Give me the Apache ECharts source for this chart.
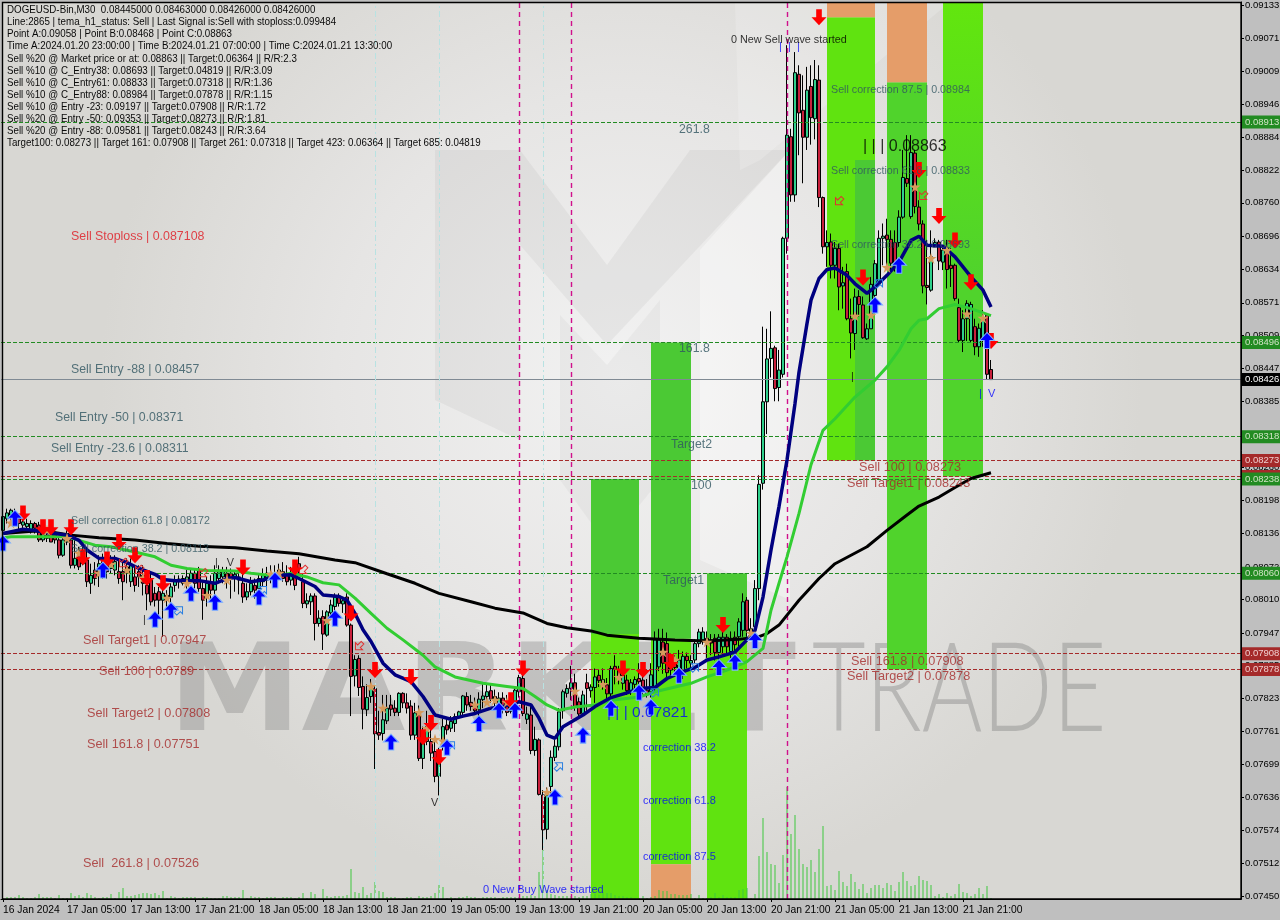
<!DOCTYPE html>
<html><head><meta charset="utf-8">
<style>html,body{margin:0;padding:0;background:#bfbfbf;overflow:hidden}#c{width:1280px;height:920px}</style>
<script src="https://cdn.jsdelivr.net/npm/echarts@6/dist/echarts.min.js"></script>
</head><body><div id="c"></div>
<script>
// All prices are in points: 1 point = 0.00001
const headerLines = [
"DOGEUSD-Bin,M30  0.08445000 0.08463000 0.08426000 0.08426000",
"Line:2865 | tema_h1_status: Sell | Last Signal is:Sell with stoploss:0.099484",
"Point A:0.09058 | Point B:0.08468 | Point C:0.08863",
"Time A:2024.01.20 23:00:00 | Time B:2024.01.21 07:00:00 | Time C:2024.01.21 13:30:00",
"Sell %20 @ Market price or at: 0.08863 || Target:0.06364 || R/R:2.3",
"Sell %10 @ C_Entry38: 0.08693 || Target:0.04819 || R/R:3.09",
"Sell %10 @ C_Entry61: 0.08833 || Target:0.07318 || R/R:1.36",
"Sell %10 @ C_Entry88: 0.08984 || Target:0.07878 || R/R:1.15",
"Sell %10 @ Entry -23: 0.09197 || Target:0.07908 || R/R:1.72",
"Sell %20 @ Entry -50: 0.09353 || Target:0.08273 || R/R:1.81",
"Sell %20 @ Entry -88: 0.09581 || Target:0.08243 || R/R:3.64",
"Target100: 0.08273 || Target 161: 0.07908 || Target 261: 0.07318 || Target 423: 0.06364 || Target 685: 0.04819"
];
const barCount = 310;
const tickLabels = ["16 Jan 2024","17 Jan 05:00","17 Jan 13:00","17 Jan 21:00","18 Jan 05:00","18 Jan 13:00","18 Jan 21:00","19 Jan 05:00","19 Jan 13:00","19 Jan 21:00","20 Jan 05:00","20 Jan 13:00","20 Jan 21:00","21 Jan 05:00","21 Jan 13:00","21 Jan 21:00"];
const priceTicks = [9133,9071,9009,8946,8884,8822,8760,8696,8634,8571,8509,8447,8385,8322,8260,8198,8136,8072,8010,7947,7885,7823,7761,7699,7636,7574,7512,7450];
// open, close, low, high
const ohlc = [
[8141,8167,8138,8173],[8163,8174,8154,8182],[8170,8179,8157,8182],[8172,8160,8154,8182],[8163,8154,8141,8173],
[8151,8157,8138,8173],[8148,8154,8138,8163],[8138,8154,8135,8160],[8154,8145,8135,8157],[8151,8123,8119,8157],
[8123,8145,8119,8151],[8132,8126,8119,8145],[8135,8119,8119,8145],[8132,8123,8116,8141],[8123,8094,8088,8129],
[8094,8123,8091,8126],[8119,8135,8113,8141],[8123,8075,8069,8148],[8075,8088,8069,8123],[8094,8072,8066,8110],
[8078,8088,8075,8116],[8085,8044,8034,8107],[8041,8056,8021,8078],[8066,8050,8037,8081],[8056,8078,8034,8094],
[8082,8066,8050,8097],[8075,8063,8050,8097],[8069,8082,8060,8094],[8066,8082,8056,8094],[8063,8050,8040,8085],
[8063,8044,8009,8082],[8072,8060,8041,8088],[8044,8075,8034,8088],[8053,8037,8025,8072],[8063,8053,8034,8075],
[8056,8041,8018,8075],[8037,8021,7990,8053],[8047,8006,7999,8060],[8022,8009,7997,8034],[8025,8009,7978,8034],
[8009,8022,7940,8034],[8009,8018,7994,8028],[8015,8034,8003,8041],[8037,8047,8025,8056],[8049,8044,8031,8056],
[8041,8050,8037,8056],[8044,8053,8031,8066],[8047,8060,8041,8069],[8060,8041,8031,8069],[8066,8031,8025,8072],
[8031,8009,7972,8044],[8015,8041,7997,8053],[8041,8028,8006,8056],[8028,8060,8009,8075],[8050,8063,8041,8075],
[8053,8063,8041,8072],[8060,8050,8031,8072],[8060,8050,8012,8069],[8050,8058,8025,8066],[8053,8047,8020,8066],
[8041,8015,8004,8060],[8015,8025,8009,8041],[8025,8041,8018,8053],[8037,8028,8012,8050],[8031,8050,8022,8060],
[8044,8056,8034,8069],[8047,8060,8034,8072],[8060,8050,8041,8075],[8060,8053,8044,8075],[8056,8066,8047,8078],
[8063,8050,8044,8081],[8056,8044,8037,8075],[8047,8056,8037,8072],[8056,8037,8028,8075],[8078,8069,8060,8091],
[8044,8003,7994,8060],[8002,8008,7994,8022],[8006,8017,7981,8022],[8017,7965,7933,8022],[7965,7975,7959,7990],
[7978,7945,7915,7990],[7943,7987,7940,7990],[7985,8000,7975,8010],[7997,8015,7985,8022],[8017,8003,7997,8022],
[8002,8008,7985,8015],[8015,7962,7959,8022],[7962,7865,7790,7965],[7866,7897,7846,7905],[7899,7844,7828,7905],
[7846,7803,7765,7865],[7802,7825,7790,7850],[7827,7842,7815,7860],[7842,7756,7690,7848],[7759,7754,7745,7800],
[7757,7783,7744,7830],[7781,7805,7775,7830],[7811,7803,7790,7830],[7805,7797,7790,7820],[7797,7833,7790,7835],
[7833,7815,7805,7835],[7815,7805,7795,7833],[7809,7754,7745,7820],[7754,7796,7745,7815],[7792,7710,7705,7810],
[7710,7742,7690,7770],[7742,7770,7735,7800],[7742,7720,7705,7770],[7723,7676,7665,7745],[7676,7707,7640,7730],
[7740,7770,7725,7785],[7773,7764,7755,7785],[7767,7780,7760,7790],[7776,7789,7760,7795],[7788,7798,7785,7800],
[7797,7828,7790,7830],[7827,7811,7800,7835],[7816,7808,7800,7830],[7810,7800,7795,7825],[7802,7822,7790,7835],
[7821,7828,7805,7850],[7827,7836,7815,7850],[7838,7822,7815,7850],[7827,7815,7805,7840],[7808,7824,7800,7835],
[7824,7805,7795,7835],[7811,7797,7790,7830],[7799,7808,7795,7825],[7808,7839,7800,7845],[7836,7863,7825,7868],
[7861,7795,7790,7868],[7784,7794,7775,7808],[7792,7725,7718,7810],[7725,7746,7715,7770],[7745,7642,7640,7748],
[7641,7575,7537,7650],[7576,7641,7557,7655],[7657,7712,7640,7725],[7712,7733,7705,7745],[7732,7798,7725,7805],
[7800,7836,7785,7840],[7833,7842,7825,7850],[7842,7853,7820,7885],[7853,7808,7800,7870],[7817,7794,7785,7825],
[7795,7830,7790,7838],[7853,7842,7800,7870],[7838,7845,7825,7850],[7844,7864,7815,7880],[7867,7857,7845,7877],
[7852,7859,7840,7880],[7849,7832,7815,7862],[7832,7880,7820,7885],[7884,7878,7850,7905],[7877,7861,7850,7885],
[7852,7867,7840,7885],[7858,7838,7830,7868],[7838,7853,7830,7860],[7850,7859,7840,7865],[7861,7855,7845,7890],
[7858,7839,7830,7880],[7839,7830,7825,7860],[7836,7868,7825,7890],[7845,7934,7835,7950],[7883,7934,7875,7955],
[7930,7890,7870,7955],[7927,7872,7860,7948],[7877,7892,7865,7905],[7896,7882,7865,7905],[7867,7896,7855,7915],
[7871,7903,7860,7912],[7903,7895,7880,7910],[7890,7895,7880,7905],[7896,7927,7890,7935],[7927,7949,7920,7955],
[7934,7949,7925,7958],[7937,7927,7900,7950],[7934,7928,7905,7945],[7937,7910,7895,7945],[7910,7939,7895,7945],
[7921,7939,7905,7962],[7939,7921,7905,7945],[7912,7937,7900,7950],[7939,7925,7905,7950],[7940,7968,7920,7975],
[7952,8006,7940,8022],[8009,7952,7940,8015],[7950,7955,7935,7975],[7959,8031,7950,8047],[8031,8228,8009,8245],
[8230,8384,8218,8526],[8384,8465,8323,8522],[8466,8485,8430,8555],[8486,8409,8385,8490],[8411,8444,8385,8482],
[8436,8693,8430,8696],[8693,8888,8664,9058],[8885,8775,8762,8900],[8775,9006,8762,9045],[9003,8930,8850,9020],
[8935,8884,8797,9001],[8884,8973,8860,9017],[8980,8921,8870,9020],[8919,8993,8880,9030],[8992,8770,8752,9020],
[8770,8677,8664,8772],[8677,8685,8639,8708],[8686,8642,8617,8702],[8642,8674,8617,8686],[8674,8601,8557,8683],
[8603,8609,8560,8639],[8630,8541,8538,8645],[8541,8514,8466,8579],[8513,8582,8482,8598],[8583,8568,8545,8595],
[8567,8505,8503,8583],[8503,8522,8501,8532],[8522,8606,8522,8620],[8585,8645,8576,8652],[8608,8693,8608,8708],
[8693,8697,8642,8721],[8699,8691,8639,8730],[8691,8646,8633,8708],[8685,8642,8630,8708],[8685,8733,8677,8746],
[8733,8808,8730,8860],[8806,8797,8790,8888],[8734,8855,8730,8888],[8854,8753,8740,8860],[8752,8720,8708,8765],
[8720,8603,8589,8727],[8604,8600,8568,8690],[8595,8658,8592,8708],[8680,8685,8677,8693],[8686,8650,8633,8690],
[8648,8671,8633,8680],[8674,8634,8598,8690],[8642,8636,8601,8674],[8642,8579,8575,8645],[8562,8500,8497,8579],
[8500,8541,8478,8557],[8541,8570,8499,8576],[8500,8568,8497,8573],[8526,8488,8472,8541],[8488,8523,8469,8532],
[8500,8541,8488,8557],[8548,8436,8426,8551],[8445,8426,8426,8463]
];
const tickVolume = [1,2,2,2,4,2,1,1,2,5,2,2,2,1,4,1,1,6,3,4,2,6,4,2,1,2,2,5,1,7,11,3,3,4,5,6,6,5,6,4,8,1,3,2,1,2,2,2,2,1,2,2,1,1,1,3,3,2,2,2,9,1,3,2,2,1,2,2,2,1,2,2,2,1,2,6,1,7,5,1,10,3,2,3,3,3,4,30,7,6,12,4,6,17,8,7,2,2,2,1,1,2,2,1,3,2,2,3,6,14,12,1,2,1,2,2,3,2,2,1,2,2,2,2,1,2,2,2,2,2,3,3,4,3,27,49,9,5,4,3,3,3,3,3,2,3,3,5,5,4,7,6,6,4,3,3,2,2,1,1,3,1,2,3,9,8,8,5,5,4,4,4,5,1,4,1,1,2,6,2,4,2,2,2,9,10,11,1,5,43,81,47,35,34,16,44,112,65,84,50,35,32,39,27,50,73,13,14,9,28,17,13,25,17,10,15,6,11,14,14,11,16,14,8,17,27,18,13,14,23,19,18,14,3,5,2,6,3,5,15,7,6,3,5,11,5,13,1];
const temaBlue = [[0,8135],[3,8140],[5,8143],[8,8141],[10,8138],[13,8135],[16,8132],[19,8122],[21,8104],[24,8088],[28,8088],[31,8080],[34,8069],[38,8058],[40,8048],[43,8046],[46,8046],[49,8046],[53,8041],[56,8050],[58,8052],[62,8044],[65,8047],[68,8056],[72,8057],[74,8050],[78,8035],[80,8019],[84,8016],[86,8009],[88,7984],[90,7953],[92,7931],[95,7890],[98,7868],[102,7855],[105,7827],[108,7792],[112,7784],[115,7790],[118,7795],[122,7805],[125,7808],[129,7817],[132,7811],[134,7786],[136,7754],[138,7748],[140,7770],[145,7792],[148,7808],[152,7825],[156,7834],[159,7842],[163,7844],[166,7861],[169,7871],[173,7882],[176,7896],[179,7902],[183,7911],[186,7934],[188,7952],[190,8015],[192,8104],[194,8186],[196,8274],[198,8381],[199,8440],[201,8532],[202,8576],[204,8617],[206,8634],[208,8637],[211,8623],[213,8607],[215,8595],[216,8589],[218,8601],[221,8623],[224,8648],[227,8689],[229,8697],[231,8680],[235,8678],[238,8658],[242,8620],[245,8595],[247,8563]];
const emaGreen = [[0,8127],[2,8129],[6,8129],[16,8129],[19,8122],[23,8113],[27,8110],[33,8100],[38,8091],[42,8075],[46,8069],[51,8065],[58,8064],[62,8060],[68,8055],[72,8060],[76,8053],[80,8042],[84,8038],[88,8013],[92,7984],[96,7956],[100,7934],[105,7905],[108,7883],[113,7864],[120,7852],[126,7846],[130,7842],[133,7827],[136,7811],[139,7801],[143,7807],[148,7811],[152,7820],[159,7826],[163,7836],[168,7845],[172,7852],[176,7864],[181,7877],[186,7893],[190,7918],[192,7990],[194,8041],[196,8091],[199,8173],[202,8265],[205,8330],[208,8352],[213,8393],[218,8425],[221,8450],[224,8481],[227,8522],[229,8538],[231,8541],[234,8560],[238,8568],[242,8560],[247,8547]];
const emaBlack = [[0,8135],[8,8140],[12,8138],[17,8132],[24,8127],[33,8123],[41,8116],[49,8111],[58,8108],[66,8102],[74,8097],[83,8085],[88,8080],[96,8059],[103,8041],[109,8022],[117,8006],[123,7994],[130,7985],[136,7965],[141,7957],[147,7951],[151,7943],[159,7937],[168,7934],[176,7932],[184,7935],[189,7940],[191,7946],[194,7962],[199,8009],[204,8050],[208,8078],[216,8110],[221,8141],[226,8170],[229,8187],[234,8204],[238,8222],[242,8239],[247,8250]];
const redArrows = [[5,8173],[10,8147],[12,8147],[17,8147],[20,8090],[26,8086],[29,8119],[33,8094],[36,8051],[40,8041],[60,8071],[73,8071],[87,7984],[93,7877],[102,7864],[107,7777],[105,7750],[109,7712],[127,7820],[130,7880],[155,7880],[160,7877],[167,7892],[180,7962],[204,9111],[215,8619],[229,8822],[234,8735],[238,8689],[242,8610],[247,8499]];
const blueArrows = [[0,8117],[3,8164],[25,8066],[38,7973],[42,7990],[47,8022],[53,8005],[64,8015],[68,8047],[83,7975],[97,7741],[111,7731],[119,7776],[124,7801],[128,7801],[138,7637],[145,7754],[152,7805],[159,7835],[162,7807],[169,7867],[179,7882],[183,7892],[188,7933],[218,8567],[224,8642],[246,8500]];
const stars = [[2,8155],[11,8141],[16,8126],[19,8098],[24,8060],[27,8077],[31,8066],[35,8051],[41,8013],[46,8041],[51,8018],[56,8047],[67,8058],[69,8060],[81,7971],[92,7846],[95,7805],[104,7797],[106,7767],[108,7746],[110,7743],[118,7811],[121,7816],[123,7820],[126,7816],[136,7646],[143,7837],[150,7850],[154,7863],[165,7911],[168,7896],[176,7930],[187,7947],[213,8546],[217,8548],[221,8638],[228,8790],[232,8655],[236,8670],[241,8550],[245,8542]];
const hollowRed = [[75,8066],[89,7922],[209,8763],[230,8773],[50,8060],[30,8079],[34,8066]];
const hollowBlue = [[44,7990],[65,8028],[112,7735],[139,7695],[173,7882],[163,7835],[219,8608]];
// bar from, bar to, top price, bottom price
const zonesDark = [[147,159,8238,7945],[162,172,8496,7936],[176,186,8060,7936],[213,218,8841,8273]];
const zonesLime = [[147,159,7945,7444],[162,172,7936,7510],[176,186,7936,7444],[206,213,9111,8273],[213,218,9111,8841]];
const zonesMid = [[221,231,8988,7878],[235,245,8620,8243]];
const zonesFade = [[235,245,9139,8620]];
const zonesOrange = [[162,172,7510,7444],[206,218,9139,9111],[221,231,9139,8988]];
const greenLevels = [8913,8496,8318,8238,8060];
const redLevels = [8273,8243,7908,7878];
const currentPrice = [8426];
const magentaBars = [129,142,196];
const cyanBars = [93,109,135];
const slateNotes = [[17,8444,"Sell Entry -88 | 0.08457"],[13,8355,"Sell Entry -50 | 0.08371"],[12,8295,"Sell Entry -23.6 | 0.08311"],[169,8899,"261.8"],[169,8484,"161.8"],[167,8304,"Target2"],[172,8225,"100"],[165,8047,"Target1"]];
const slateSmallNotes = [[17,8158,"Sell correction 61.8 | 0.08172"],[17,8106,"Sell correction 38.2 | 0.08113"],[207,8973,"Sell correction 87.5 | 0.08984"],[207,8820,"Sell correction 61.8 | 0.08833"],[207,8680,"Sell correction 38.2 | 0.08693"]];
const redNotes = [[17,8697,"Sell Stoploss | 0.087108"]];
const brownNotes = [[20,7932,"Sell Target1 | 0.07947"],[24,7875,"Sell 100 | 0.0789"],[21,7794,"Sell Target2 | 0.07808"],[21,7737,"Sell 161.8 | 0.07751"],[20,7512,"Sell  261.8 | 0.07526"],[214,8259,"Sell 100 | 0.08273"],[211,8229,"Sell Target1 | 0.08243"],[212,7894,"Sell 161.8 | 0.07908"],[211,7864,"Sell Target2 | 0.07878"]];
const blueNotes = [[160,7730,"correction 38.2"],[160,7629,"correction 61.8"],[160,7524,"correction 87.5"],[120,7461,"0 New Buy Wave started"],[244,8399,"|  V"],[194,9054,"|  |  |"]];
const blackNotes = [[182,9068,"0 New Sell wave started"],[107,7626,"V"],[53,8079,"|   V"],[212,8431,"|"],[35,7971,"|"]];
const bigBlueNotes = [[151,7796,"| | | 0.07821"]];
const bigBlackNotes = [[215,8867,"| | | 0.08863"]];

const FONT = '"Liberation Sans", Arial, sans-serif';
const categories = Array.from({length: barCount}, (_, i) => i % 16 === 0 && tickLabels[i / 16] ? tickLabels[i / 16] : String(i));
const showTick = i => i % 16 === 0 && i <= 240;
const fmtPrice = v => (v / 100000).toFixed(5);

function zoneSeries(data, fill) {
  return {type:'custom', data, z:1, silent:true, clip:true, xAxisIndex:0, yAxisIndex:0,
    encode:{x:[0,1],y:[2,3]},
    renderItem(params, api){
      const a = api.coord([api.value(0), api.value(2)]);
      const b = api.coord([api.value(1), api.value(3)]);
      return {type:'rect', shape:{x:a[0], y:a[1], width:b[0]-a[0], height:b[1]-a[1]}, style:{fill}};
    }};
}
function notes(data, color, size) {
  return {type:'scatter', data, symbolSize:0, z:9, silent:true,
    label:{show:true, position:'right', distance:0, color, fontSize:size, fontFamily:FONT, formatter:p=>p.value[2]}};
}
function marks(data, symbol, size, color, border, z, rotate) {
  return {type:'scatter', data, symbol, symbolSize:size, symbolRotate:rotate||0, z, silent:true,
    itemStyle:{color, borderColor:border, borderWidth:border?1:0, opacity:1}};
}
const downArrow = 'path://M5 0H11V8H16L8 16L0 8H5Z';
const upArrow = 'path://M8 0L16 8H11V16H5V8H0Z';
function level(v, line, boxColor, textColor, type) {
  return {yAxis:v, lineStyle:{color:line, type, width:1},
    label:{show:true, position:'end', formatter:fmtPrice(v), distance:1, color:textColor, backgroundColor:boxColor,
      fontFamily:FONT, fontSize:9.5, padding:[2,6,1,3], align:'left', verticalAlign:'middle'}};
}
function plotGraphics(){
  const poly = (points, fill) => ({type:'polygon', z:0, silent:true, shape:{points}, style:{fill}});
  const g = [
    {type:'rect', z:0, silent:true, shape:{x:2,y:2,width:1239,height:897},
      style:{fill:{type:'radial',x:0.5,y:0.42,r:0.58,colorStops:[{offset:0,color:'#f2f2f2'},{offset:0.55,color:'#e6e5e4'},{offset:1,color:'#d8d7d3'}]}}},
    poly([[435,150],[520,150],[607,265],[690,150],[790,150],[607,345],[520,245],[520,440],[435,400]],'rgba(150,150,150,0.11)'),
    poly([[560,315],[607,365],[660,300],[660,480],[607,545],[560,480]],'rgba(150,150,150,0.09)'),
    poly([[735,2],[950,2],[760,160],[740,170]],'rgba(255,255,255,0.18)'),
    poly([[700,250],[790,150],[790,600],[700,560]],'rgba(255,255,255,0.35)'),
    {type:'text', z:0, silent:true, x:168, y:637, scaleX:1.1, style:{text:'MARKET', fontFamily:'"DejaVu Sans"', fontWeight:'bold', fontSize:122, fill:'rgba(130,130,130,0.36)'}},
    {type:'text', z:0, silent:true, x:812, y:628, scaleX:0.74, style:{text:'TRADE', fontFamily:'Lato', fontWeight:300, fontSize:125, fill:'rgba(130,130,130,0.42)'}},
    {type:'rect', z:30, silent:true, shape:{x:2.5,y:2.5,width:1238.5,height:896.5}, style:{fill:'none',stroke:'#000',lineWidth:1.4}}
  ];
  headerLines.forEach((t, k) => g.push({type:'text', z:40, silent:true, x:7, y:5 + k * 12.03, scaleX:0.93,
    style:{text:t, fontFamily:FONT, fontSize:10.5, fill:'#0a0a0a'}}));
  return g;
}

const chart = echarts.init(document.getElementById('c'), null, {renderer:'canvas'});
chart.setOption({
  animation:false, backgroundColor:'#bfbfbf',
  grid:{left:1, right:39, top:2, bottom:21, show:false, outerBoundsMode:'none', containLabel:false},
  graphic:plotGraphics(),
  xAxis:[{type:'category', data:categories, boundaryGap:true,
    axisLine:{show:true, lineStyle:{color:'#000', width:1}},
    axisTick:{show:true, interval:showTick, alignWithLabel:true, length:3, lineStyle:{color:'#000'}},
    axisLabel:{interval:showTick, align:'left', margin:6, color:'#000', fontFamily:FONT, fontSize:10.3, formatter:v=>v, hideOverlap:false},
    splitLine:{show:false}}],
  yAxis:[
    {type:'value', position:'right', min:7444.3, max:9139.6, scale:true,
     axisLine:{show:true, onZero:false, lineStyle:{color:'#000', width:1}},
     axisTick:{show:true, length:3, lineStyle:{color:'#000'}, customValues:priceTicks},
     axisLabel:{color:'#000', margin:4, fontFamily:FONT, fontSize:9.5, customValues:priceTicks, formatter:fmtPrice},
     splitLine:{show:false}},
    {type:'value', min:0, max:897, show:false}
  ],
  series:[
    zoneSeries(zonesDark,'#4bc934'), zoneSeries(zonesLime,'#60e310'), zoneSeries(zonesMid,'#50d32c'),
    zoneSeries(zonesFade,{type:'linear',x:0,y:0,x2:0,y2:1,colorStops:[{offset:0,color:'#62e60e'},{offset:1,color:'#50d32c'}]}),
    zoneSeries(zonesOrange,'#e59d69'),
    {type:'bar', yAxisIndex:1, data:tickVolume, barWidth:1, z:2, silent:true, itemStyle:{color:'#3fc83f'}},
    {type:'line', data:[], z:3, silent:true, symbol:'none', markLine:{silent:true, symbol:'none', animation:false, data:[
      ...redLevels.map(v=>level(v,'#a52a2a','#a52a2a','#f0cfcf','dashed')),
      ...greenLevels.map(v=>level(v,'#228b22','#228b22','#cfe3c4','dashed')),
      ...currentPrice.map(v=>level(v,'#808a94','#000','#fff','solid')),
      ...magentaBars.map(i=>({xAxis:i, label:{show:false}, lineStyle:{color:'#d0108c', type:[5,4], width:1.4}})),
      ...cyanBars.map(i=>({xAxis:i, label:{show:false}, lineStyle:{color:'#b8e2e2', type:[6,3,2,3], width:1}}))
    ]}},
    {type:'candlestick', data:ohlc, barWidth:3, z:4, silent:true,
      itemStyle:{color:'#2fd08c', color0:'#c8203c', borderColor:'#000', borderColor0:'#000', borderWidth:1}},
    {type:'line', data:emaBlack, z:5, symbol:'none', silent:true, lineStyle:{color:'#000', width:3}},
    {type:'line', data:emaGreen, z:5, symbol:'none', silent:true, lineStyle:{color:'#32cd32', width:3}},
    {type:'line', data:temaBlue, z:6, symbol:'none', silent:true, lineStyle:{color:'#000080', width:3.5}},
    marks(stars,'path://M8 0L10 6L16 6L11 10L13 16L8 12L3 16L5 10L0 6L6 6Z',11,'#d69a5c',null,7),
    marks(hollowRed,upArrow,10,'rgba(0,0,0,0)','#e03030',7,135),
    marks(hollowBlue,upArrow,10,'rgba(0,0,0,0)','#2a7fe0',7,-45),
    marks(redArrows,downArrow,[15,16],'#ff0000',null,8),
    marks(blueArrows,upArrow,[15,16],'#0000ff','#7fb4ff',8),
    notes(slateNotes,'#2f5560',12.3), notes(slateSmallNotes,'#2f5560',10.7), notes(redNotes,'#e01820',12.4), notes(brownNotes,'#a52a2a',12.7),
    notes(blueNotes,'#0000ff',11), notes(blackNotes,'#000',10.8),
    notes(bigBlueNotes,'#0000ff',15.5), notes(bigBlackNotes,'#000',16)
  ]
});
</script></body></html>
